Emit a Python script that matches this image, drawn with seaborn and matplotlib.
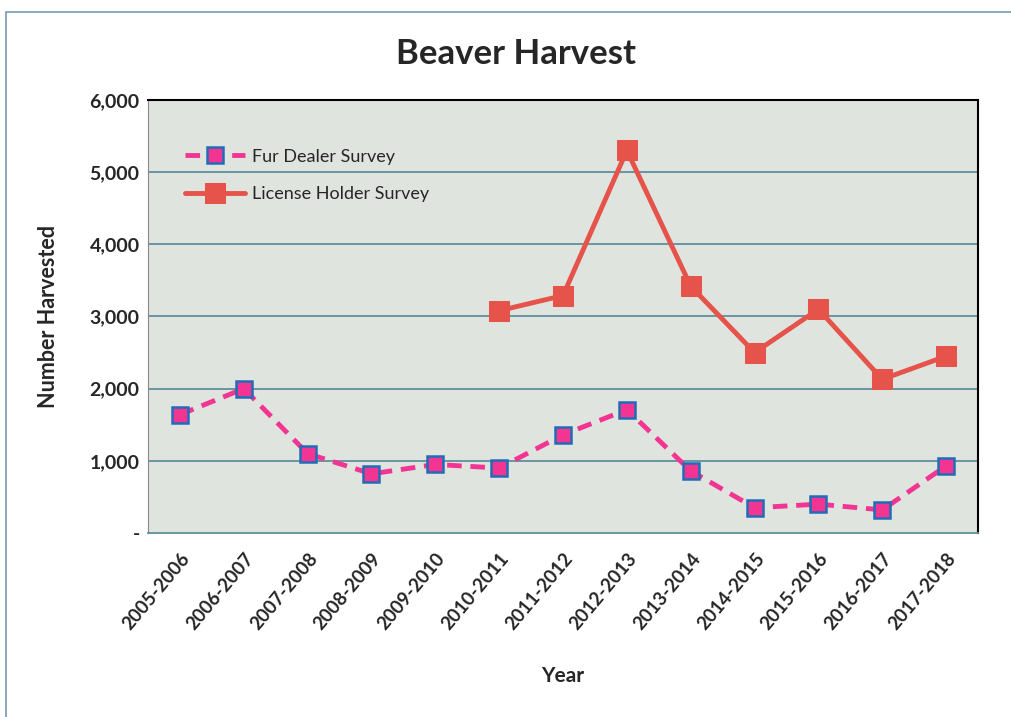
import numpy as np
import pandas as pd
import matplotlib.pyplot as plt
import seaborn as sns
from matplotlib.ticker import FuncFormatter

years = ['2005-2006', '2006-2007', '2007-2008', '2008-2009', '2009-2010',
         '2010-2011', '2011-2012', '2012-2013', '2013-2014', '2014-2015',
         '2015-2016', '2016-2017', '2017-2018']
fur_dealer = [1640, 2000, 1100, 820, 950, 900, 1360, 1710, 860, 350, 400, 320, 930]
license_holder = [np.nan, np.nan, np.nan, np.nan, np.nan,
                  3080, 3290, 5300, 3420, 2500, 3100, 2130, 2450]

df = pd.DataFrame({'pos': range(len(years)), 'Year': years,
                   'Fur Dealer Survey': fur_dealer,
                   'License Holder Survey': license_holder})

sns.set_style('white')
plt.rcParams['font.family'] = ['Lato', 'DejaVu Sans']

fig = plt.figure(figsize=(10.11, 7.17), dpi=100)
ax = fig.add_axes([0.1464, 0.2566, 0.821, 0.604])
ax.set_facecolor('#e0e4df')

for v in range(1000, 6001, 1000):
    ax.axhline(v, color='#5f8f9c', lw=1.3, zorder=1)

sns.lineplot(data=df, x='pos', y='Fur Dealer Survey', ax=ax, color='#f23593',
             lw=3.5, dashes=False, marker='s', markersize=11,
             markerfacecolor='#f23593', markeredgecolor='#1f6db8',
             markeredgewidth=1.8, label='Fur Dealer Survey', zorder=3)
ax.lines[-1].set_linestyle((0, (3, 1.8)))
sns.lineplot(data=df.dropna(), x='pos', y='License Holder Survey', ax=ax,
             color='#e5534b', lw=3.5, marker='s', markersize=14,
             markerfacecolor='#e5534b', markeredgecolor='#e5534b',
             label='License Holder Survey', zorder=3)

ax.set_xlim(-0.5, len(years) - 0.5)
ax.set_ylim(0, 6000)
ax.set_yticks(range(0, 6001, 1000))
ax.yaxis.set_major_formatter(FuncFormatter(lambda v, p: '-' if v == 0 else f'{int(v):,}'))
ax.set_xticks(np.arange(len(years)))
ax.set_xticklabels(years, rotation=50, ha='right', rotation_mode='anchor',
                   fontsize=13.5, fontweight='bold')
for lab in ax.get_yticklabels():
    lab.set_fontsize(14)
    lab.set_fontweight('bold')
ax.tick_params(axis='x', length=6, color='#888888', pad=6)
ax.tick_params(axis='y', length=0, pad=6)

ax.set_xlabel('Year', fontsize=15, fontweight='bold', labelpad=24)
ax.set_ylabel('Number Harvested', fontsize=15.5, fontweight='bold', labelpad=22)

ax.spines['top'].set_color('black')
ax.spines['right'].set_color('black')
ax.spines['top'].set_linewidth(1.5)
ax.spines['right'].set_linewidth(1.5)
ax.spines['left'].set_color('#888888')
ax.spines['bottom'].set_color('#5f8f9c')
ax.spines['bottom'].set_linewidth(1.3)

leg = ax.legend(loc='upper left', bbox_to_anchor=(0.025, 0.925), frameon=False,
                fontsize=13, handlelength=3.3, handletextpad=0.4, labelspacing=1.2)

fig.text(0.51, 0.925, 'Beaver Harvest', ha='center', va='center',
         fontsize=25, fontweight='bold')

border = plt.Rectangle((0.006, -0.01), 1.2, 0.993, transform=fig.transFigure,
                       fill=False, edgecolor='#7a9ab0', lw=1.2)
fig.patches.append(border)

fig.savefig('out.png', dpi=100)
